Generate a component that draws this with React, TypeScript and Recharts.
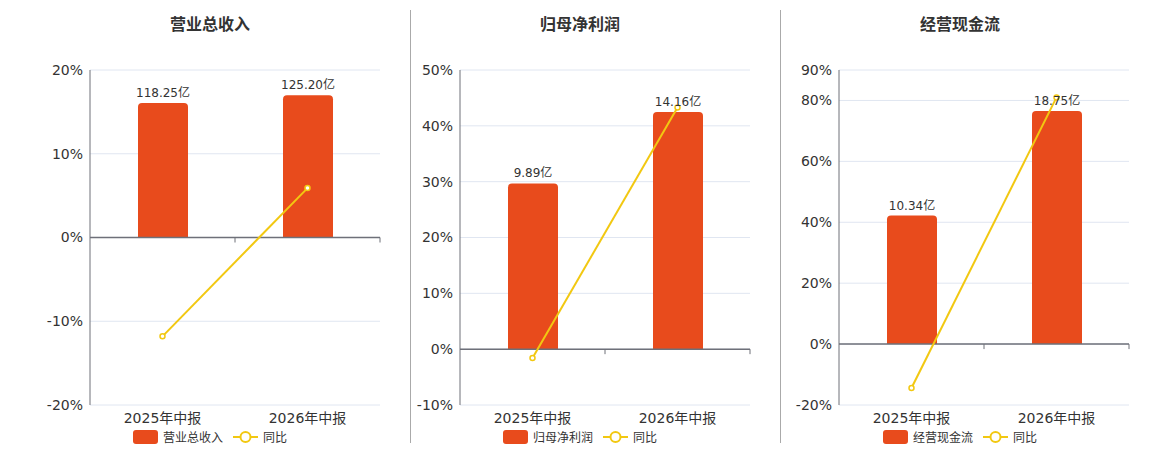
import React from 'react';
import {
  ComposedChart,
  Bar,
  Line,
  XAxis,
  YAxis,
  CartesianGrid,
  ReferenceLine,
  LabelList,
} from 'recharts';

const periods = ['2025年中报', '2026年中报'];

const revenueAmount = [118.25, 125.2];
const revenueYoy = [-11.8, 5.9];
const revenueTicks = [-20, -10, 0, 10, 20];

const profitAmount = [9.89, 14.16];
const profitYoy = [-1.6, 43.3];
const profitTicks = [-10, 0, 10, 20, 30, 40, 50];

const cashAmount = [10.34, 18.75];
const cashYoy = [-14.4, 81];
const cashTicks = [-20, 0, 20, 40, 60, 80, 90];

const BAR_COLOR = '#E84B1C';
const LINE_COLOR = '#F2C811';
const FONT = '"DejaVu Sans", "Noto Sans CJK SC", sans-serif';

interface PanelProps {
  title: string;
  left: number;
  titleCenter: number;
  amounts: number[];
  yoy: number[];
  ticks: number[];
}

// zero line with small tick marks at category borders
const ZeroLine = (props: any) => {
  const { x1, x2, y1 } = props;
  if (x1 == null) return null;
  const mid = (x1 + x2) / 2;
  return (
    <g>
      <line x1={x1} x2={x2} y1={y1} y2={y1} stroke="#6E7079" strokeWidth={1.5} />
      <line x1={mid} x2={mid} y1={y1} y2={y1 + 5} stroke="#6E7079" />
      <line x1={x2} x2={x2} y1={y1} y2={y1 + 5} stroke="#6E7079" />
    </g>
  );
};

const Panel: React.FC<PanelProps> = ({ title, left, titleCenter, amounts, yoy, ticks }) => {
  const data = periods.map((p, i) => ({ name: p, amount: amounts[i], yoy: yoy[i] }));
  const pctMin = ticks[0];
  const pctMax = ticks[ticks.length - 1];
  const amtTop = Math.max(...amounts) / 0.85;
  const amtBottom = (amtTop * pctMin) / pctMax;

  return (
    <>
      <div
        style={{
          position: 'absolute',
          left: titleCenter - 100,
          width: 200,
          top: 11,
          textAlign: 'center',
          fontSize: 16,
          fontWeight: 'bold',
          color: '#333',
          fontFamily: FONT,
        }}
      >
        {title}
      </div>
      <div style={{ position: 'absolute', left, top: 0 }}>
        <ComposedChart
          width={400}
          height={450}
          data={data}
          margin={{ top: 70, right: 20, bottom: 15, left: 0 }}
        >
          <CartesianGrid vertical={false} stroke="#E0E6F1" yAxisId="pct" />
          <XAxis
            dataKey="name"
            axisLine={false}
            tickLine={false}
            height={30}
            tick={{ fill: '#333', fontSize: 14, fontFamily: FONT }}
            tickMargin={2}
            interval={0}
          />
          <YAxis
            yAxisId="pct"
            domain={[pctMin, pctMax]}
            ticks={ticks}
            interval={0}
            width={90}
            tickFormatter={(v: number) => `${v}%`}
            axisLine={{ stroke: '#6E7079' }}
            tickLine={false}
            tickMargin={1}
            tick={{ fill: '#333', fontSize: 14, fontFamily: FONT }}
          />
          <YAxis yAxisId="amt" hide orientation="right" width={0} domain={[amtBottom, amtTop]} />
          <ReferenceLine yAxisId="pct" y={0} shape={<ZeroLine />} />
          <Bar
            yAxisId="amt"
            dataKey="amount"
            fill={BAR_COLOR}
            barSize={50}
            radius={[4, 4, 0, 0]}
            isAnimationActive={false}
          >
            <LabelList
              dataKey="amount"
              position="top"
              offset={6}
              formatter={(v: any) => `${Number(v).toFixed(2)}亿`}
              style={{ fill: '#333', fontSize: 12, fontFamily: FONT }}
            />
          </Bar>
          <Line
            yAxisId="pct"
            dataKey="yoy"
            type="linear"
            stroke={LINE_COLOR}
            strokeWidth={2}
            dot={{ r: 2.5, fill: '#fff', stroke: LINE_COLOR, strokeWidth: 1.5 }}
            isAnimationActive={false}
          />
        </ComposedChart>
      </div>
      <div
        style={{
          position: 'absolute',
          left: titleCenter - 100,
          width: 200,
          top: 428,
          display: 'flex',
          justifyContent: 'center',
          alignItems: 'center',
          fontSize: 12,
          color: '#333',
          fontFamily: FONT,
        }}
      >
        <span
          style={{
            display: 'inline-block',
            width: 25,
            height: 14,
            borderRadius: 3,
            background: BAR_COLOR,
            marginRight: 5,
          }}
        />
        <span style={{ marginRight: 10 }}>{title}</span>
        <svg width={25} height={14} style={{ marginRight: 5 }}>
          <line x1={0} x2={25} y1={7} y2={7} stroke={LINE_COLOR} strokeWidth={2} />
          <circle cx={12.5} cy={7} r={5} fill="#fff" stroke={LINE_COLOR} strokeWidth={2} />
        </svg>
        <span>同比</span>
      </div>
    </>
  );
};

export default function App() {
  return (
    <div
      style={{
        position: 'absolute',
        left: 0,
        top: 0,
        width: 1160,
        height: 450,
        background: '#fff',
        overflow: 'hidden',
      }}
    >
      <Panel title="营业总收入" left={0} titleCenter={210} amounts={revenueAmount} yoy={revenueYoy} ticks={revenueTicks} />
      <Panel title="归母净利润" left={370} titleCenter={580} amounts={profitAmount} yoy={profitYoy} ticks={profitTicks} />
      <Panel title="经营现金流" left={749} titleCenter={960} amounts={cashAmount} yoy={cashYoy} ticks={cashTicks} />
      <div style={{ position: 'absolute', left: 410, top: 10, width: 1, height: 433, background: '#AAA' }} />
      <div style={{ position: 'absolute', left: 780, top: 10, width: 1, height: 433, background: '#AAA' }} />
    </div>
  );
}
